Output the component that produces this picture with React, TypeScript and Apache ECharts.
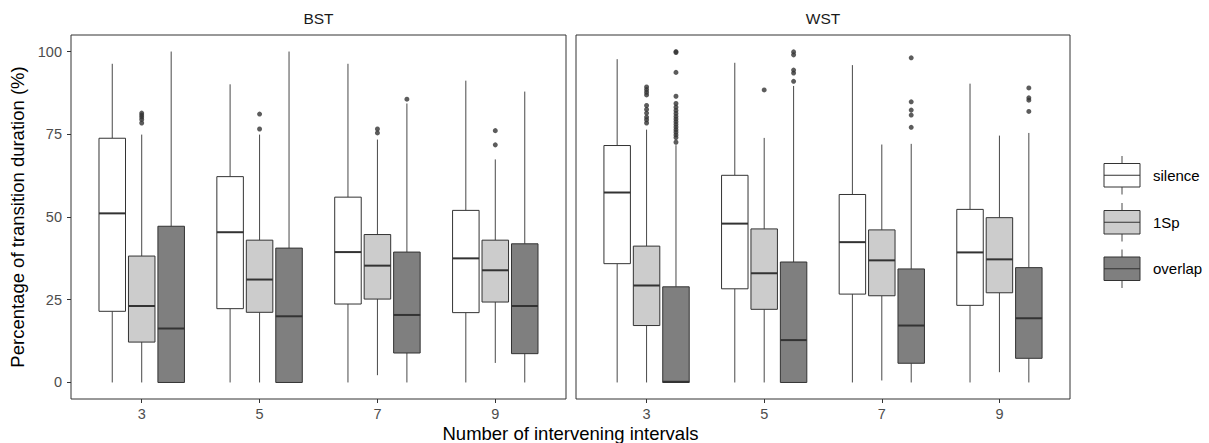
import React, { useEffect, useRef } from "react";
import * as echarts from "echarts";

const categories = ["3", "5", "7", "9"];
const groups = ["silence", "1Sp", "overlap"];
const groupFills = ["#ffffff", "#cccccc", "#7f7f7f"];
const yTicks = [0, 25, 50, 75, 100];

// each row: [lower whisker, Q1, median, Q3, upper whisker], one row per category
const bstSilence = [[0, 21.5, 51.1, 73.8, 96.3], [0, 22.3, 45.4, 62.2, 90.1], [0, 23.7, 39.4, 56.0, 96.3], [0, 21.1, 37.5, 52.0, 91.2]];
const bst1Sp = [[0, 12.2, 23.1, 38.2, 74.9], [0, 21.2, 31.1, 43.0, 74.9], [2.2, 25.2, 35.3, 44.7, 73.4], [5.9, 24.3, 33.9, 43.0, 67.4]];
const bstOverlap = [[0, 0, 16.3, 47.2, 100], [0, 0, 20.0, 40.6, 100], [0, 8.9, 20.4, 39.4, 84.3], [0, 8.7, 23.1, 41.9, 87.9]];

const wstSilence = [[0, 35.9, 57.4, 71.6, 97.7], [0, 28.3, 48.0, 62.6, 96.6], [0, 26.7, 42.4, 56.8, 95.9], [0, 23.3, 39.3, 52.3, 90.3]];
const wst1Sp = [[0, 17.2, 29.3, 41.2, 76.4], [0, 22.1, 33.0, 46.4, 73.9], [0.6, 26.2, 36.9, 46.1, 71.9], [3.1, 27.1, 37.2, 49.8, 74.6]];
const wstOverlap = [[0, 0, 0.2, 28.9, 71.7], [0, 0, 12.8, 36.4, 89.6], [0, 5.8, 17.2, 34.3, 72.1], [0, 7.3, 19.4, 34.7, 75.4]];

// outliers: [category index, group index, value]
const bstOutliers = [
  [0, 1, 81.4], [0, 1, 80.8], [0, 1, 80.2], [0, 1, 79.5], [0, 1, 78.4],
  [1, 1, 81.1], [1, 1, 76.6],
  [2, 1, 76.6], [2, 1, 75.4],
  [2, 2, 85.6],
  [3, 1, 76.1], [3, 1, 71.8],
];
const wstOutliers = [
  [0, 1, 89.3], [0, 1, 88.5], [0, 1, 87.7], [0, 1, 86.9], [0, 1, 83.7], [0, 1, 82.5], [0, 1, 81.4], [0, 1, 80.2], [0, 1, 79.4], [0, 1, 78.4],
  [0, 2, 100], [0, 2, 99.7], [0, 2, 93.7], [0, 2, 86.5], [0, 2, 84.3], [0, 2, 83.2], [0, 2, 82.2], [0, 2, 81.3], [0, 2, 80.4], [0, 2, 79.6],
  [0, 2, 78.8], [0, 2, 78.0], [0, 2, 77.2], [0, 2, 76.4], [0, 2, 75.6], [0, 2, 74.8], [0, 2, 74.0], [0, 2, 72.6],
  [1, 1, 88.4],
  [1, 2, 99.9], [1, 2, 99.0], [1, 2, 94.4], [1, 2, 93.5], [1, 2, 91.0],
  [2, 2, 98.1], [2, 2, 84.8], [2, 2, 82.3], [2, 2, 80.8], [2, 2, 77.1],
  [3, 2, 89.0], [3, 2, 86.0], [3, 2, 85.3], [3, 2, 81.9],
];

const DODGE = 0.25;
const HALF_W = 0.1125;
const STROKE = "#333333";
const FONT = "'Liberation Sans', Arial, Helvetica, sans-serif";

const xPos = (cat: number, grp: number) => cat + 1 + (grp - 1) * DODGE;

function boxSeries(rows: number[][], grp: number, panel: number) {
  return {
    type: "custom",
    xAxisIndex: panel,
    yAxisIndex: panel,
    clip: false,
    encode: { x: 0, y: [1, 2, 3, 4, 5] },
    data: rows.map((r, i) => [xPos(i, grp), ...r]),
    renderItem: (params: any, api: any) => {
      const x = api.value(0);
      const lo = api.value(1), q1 = api.value(2), med = api.value(3), q3 = api.value(4), hi = api.value(5);
      const c = api.coord([x, lo]);
      const pHi = api.coord([x, hi]);
      const pQ3 = api.coord([x - HALF_W, q3]);
      const pQ1 = api.coord([x + HALF_W, q1]);
      const pMedL = api.coord([x - HALF_W, med]);
      const pMedR = api.coord([x + HALF_W, med]);
      return {
        type: "group",
        children: [
          { type: "line", shape: { x1: c[0], y1: pHi[1], x2: c[0], y2: pQ3[1] }, style: { stroke: STROKE, lineWidth: 0.9 } },
          { type: "line", shape: { x1: c[0], y1: pQ1[1], x2: c[0], y2: c[1] }, style: { stroke: STROKE, lineWidth: 0.9 } },
          {
            type: "rect",
            shape: { x: pQ3[0], y: pQ3[1], width: pQ1[0] - pQ3[0], height: pQ1[1] - pQ3[1] },
            style: { fill: groupFills[grp], stroke: STROKE, lineWidth: 1 },
          },
          { type: "line", shape: { x1: pMedL[0], y1: pMedL[1], x2: pMedR[0], y2: pMedR[1] }, style: { stroke: STROKE, lineWidth: 2 } },
        ],
      };
    },
    z: 2,
  };
}

function outlierSeries(list: number[][], panel: number) {
  return {
    type: "scatter",
    xAxisIndex: panel,
    yAxisIndex: panel,
    symbol: "circle",
    symbolSize: 5,
    itemStyle: { color: STROKE },
    data: list.map((o) => [xPos(o[0], o[1]), o[2]]),
    z: 3,
  };
}

function xAxisFor(panel: number) {
  return {
    type: "value",
    gridIndex: panel,
    position: "bottom",
    min: 0.4,
    max: 4.6,
    axisLine: { show: false, onZero: false },
    splitLine: { show: false },
    axisTick: { show: true, customValues: [1, 2, 3, 4], length: 4, lineStyle: { color: STROKE } },
    axisLabel: {
      customValues: [1, 2, 3, 4],
      formatter: (v: number) => categories[Math.round(v) - 1] ?? "",
      color: "#4d4d4d",
      fontSize: 14.5,
      fontFamily: FONT,
      margin: 7,
    },
  };
}

function yAxisFor(panel: number) {
  const show = panel === 0;
  return {
    type: "value",
    gridIndex: panel,
    position: "left",
    min: -5,
    max: 105,
    axisLine: { show: false, onZero: false },
    splitLine: { show: false },
    axisTick: { show, customValues: yTicks, length: 4, lineStyle: { color: STROKE } },
    axisLabel: { show, customValues: yTicks, color: "#4d4d4d", fontSize: 14.5, fontFamily: FONT, margin: 9 },
    name: show ? "Percentage of transition duration (%)" : "",
    nameLocation: "middle",
    nameGap: 44,
    nameTextStyle: { color: "#000", fontSize: 18.5, fontFamily: FONT },
  };
}

function legendGraphics() {
  const out: any[] = [];
  const cx = 1122;
  const tops = [163.5, 210.5, 257];
  groups.forEach((g, i) => {
    const t = tops[i];
    const h = 23.5;
    out.push({ type: "line", shape: { x1: cx, y1: t - 7.5, x2: cx, y2: t }, style: { stroke: STROKE, lineWidth: 0.9 } });
    out.push({ type: "line", shape: { x1: cx, y1: t + h, x2: cx, y2: t + h + 7.5 }, style: { stroke: STROKE, lineWidth: 0.9 } });
    out.push({ type: "rect", shape: { x: 1104, y: t, width: 36, height: h }, style: { fill: groupFills[i], stroke: STROKE, lineWidth: 1 } });
    out.push({ type: "line", shape: { x1: 1104, y1: t + h / 2, x2: 1140, y2: t + h / 2 }, style: { stroke: STROKE, lineWidth: 1 } });
    out.push({
      type: "text",
      x: 1153,
      y: t + h / 2,
      style: { text: g, fontSize: 15, fontFamily: FONT, fill: "#000", textAlign: "left", textVerticalAlign: "middle" },
    });
  });
  return out;
}

export default function App() {
  const ref = useRef<HTMLDivElement>(null);
  useEffect(() => {
    document.body.style.margin = "0";
    if (!ref.current) return;
    const chart = echarts.init(ref.current, undefined, { renderer: "svg" });
    chart.setOption({
      animation: false,
      backgroundColor: "#ffffff",
      grid: [
        { left: 71, top: 35, width: 495, height: 364, show: true, borderColor: STROKE, borderWidth: 1, backgroundColor: "transparent" },
        { left: 576, top: 35, width: 494, height: 364, show: true, borderColor: STROKE, borderWidth: 1, backgroundColor: "transparent" },
      ],
      xAxis: [xAxisFor(0), xAxisFor(1)],
      yAxis: [yAxisFor(0), yAxisFor(1)],
      series: [
        boxSeries(bstSilence, 0, 0),
        boxSeries(bst1Sp, 1, 0),
        boxSeries(bstOverlap, 2, 0),
        outlierSeries(bstOutliers, 0),
        boxSeries(wstSilence, 0, 1),
        boxSeries(wst1Sp, 1, 1),
        boxSeries(wstOverlap, 2, 1),
        outlierSeries(wstOutliers, 1),
      ],
      graphic: [
        { type: "text", x: 318.5, y: 18, style: { text: "BST", fontSize: 15.5, fontFamily: FONT, fill: "#1a1a1a", textAlign: "center", textVerticalAlign: "middle" } },
        { type: "text", x: 823, y: 18, style: { text: "WST", fontSize: 15.5, fontFamily: FONT, fill: "#1a1a1a", textAlign: "center", textVerticalAlign: "middle" } },
        { type: "text", x: 570.5, y: 433, style: { text: "Number of intervening intervals", fontSize: 18.5, fontFamily: FONT, fill: "#000", textAlign: "center", textVerticalAlign: "middle" } },
        ...legendGraphics(),
      ],
    });
    return () => chart.dispose();
  }, []);
  return <div ref={ref} style={{ width: 1209, height: 443 }} />;
}
